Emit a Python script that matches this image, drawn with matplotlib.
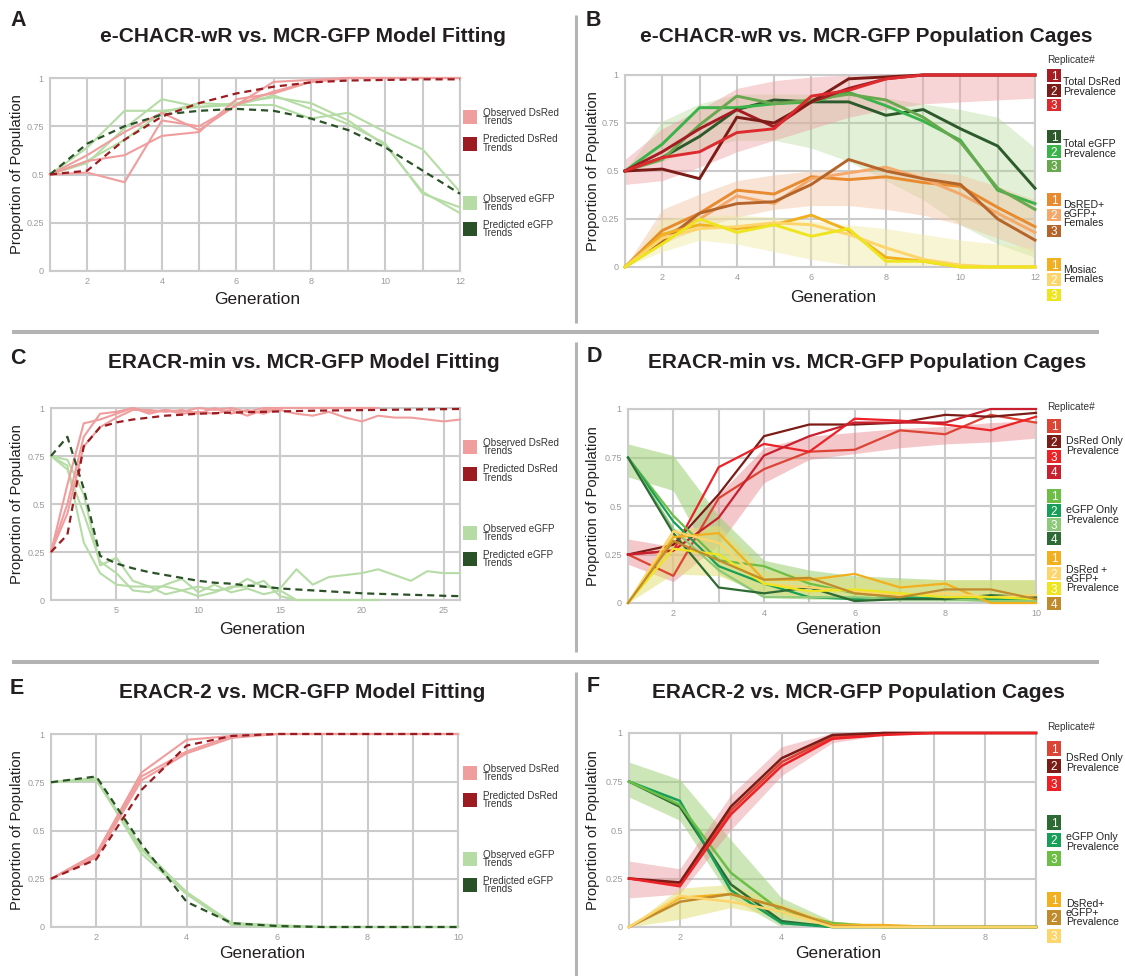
import matplotlib
matplotlib.use('Agg')
import matplotlib.pyplot as plt
from matplotlib.lines import Line2D
from matplotlib.patches import Rectangle

plt.rcParams['font.family'] = ['Liberation Sans', 'DejaVu Sans']

# ---------------- DATA ----------------
# Panels A / B : e-CHACR-wR vs MCR-GFP (generations 1..12)
gen_AB = list(range(1, 13))
B_dsred = [
    [0.5, 0.60, 0.72, 0.82, 0.73, 0.86, 0.93, 0.98, 1, 1, 1, 1],
    [0.5, 0.51, 0.46, 0.78, 0.75, 0.86, 0.98, 0.99, 1, 1, 1, 1],
    [0.5, 0.57, 0.60, 0.70, 0.72, 0.89, 0.92, 0.98, 1, 1, 1, 1],
]
B_egfp = [
    [0.5, 0.57, 0.68, 0.82, 0.87, 0.86, 0.86, 0.79, 0.82, 0.72, 0.63, 0.41],
    [0.5, 0.64, 0.83, 0.83, 0.85, 0.86, 0.91, 0.84, 0.76, 0.66, 0.40, 0.33],
    [0.5, 0.56, 0.74, 0.89, 0.85, 0.87, 0.90, 0.87, 0.78, 0.65, 0.41, 0.30],
]
B_double = [
    [0, 0.19, 0.28, 0.40, 0.38, 0.47, 0.455, 0.47, 0.44, 0.42, 0.31, 0.21],
    [0, 0.16, 0.25, 0.37, 0.33, 0.46, 0.49, 0.52, 0.46, 0.38, 0.28, 0.18],
    [0, 0.13, 0.28, 0.33, 0.34, 0.43, 0.56, 0.50, 0.46, 0.43, 0.25, 0.14],
]
B_mosaic = [
    [0, 0.17, 0.22, 0.20, 0.22, 0.27, 0.19, 0.05, 0.03, 0, 0, 0],
    [0, 0.15, 0.20, 0.21, 0.23, 0.22, 0.17, 0.10, 0.04, 0.01, 0, 0],
    [0, 0.12, 0.25, 0.18, 0.22, 0.16, 0.20, 0.03, 0.03, 0, 0, 0],
]
# simulation envelopes (lower, upper)
B_band_red = ([0.43, 0.45, 0.52, 0.60, 0.66, 0.72, 0.78, 0.82, 0.85, 0.86, 0.87, 0.88],
              [0.56, 0.72, 0.82, 0.93, 0.97, 0.99, 1, 1, 1, 1, 1, 1])
B_band_green = ([0.5, 0.55, 0.62, 0.66, 0.66, 0.62, 0.55, 0.45, 0.35, 0.22, 0.12, 0.05],
                [0.5, 0.76, 0.85, 0.90, 0.90, 0.90, 0.90, 0.88, 0.85, 0.82, 0.78, 0.62])
B_band_orange = ([0, 0.12, 0.20, 0.26, 0.30, 0.32, 0.32, 0.30, 0.27, 0.22, 0.15, 0.08],
                 [0, 0.30, 0.38, 0.45, 0.48, 0.50, 0.50, 0.50, 0.50, 0.48, 0.42, 0.35])
B_band_yellow = ([0, 0.08, 0.14, 0.12, 0.08, 0.04, 0.01, 0, 0, 0, 0, 0],
                 [0, 0.25, 0.27, 0.27, 0.26, 0.24, 0.22, 0.20, 0.17, 0.14, 0.12, 0.10])
A_pred_dsred = [0.5, 0.52, 0.68, 0.80, 0.87, 0.92, 0.955, 0.977, 0.987, 0.99, 0.993, 0.993]
A_pred_egfp = [0.5, 0.66, 0.75, 0.81, 0.83, 0.84, 0.83, 0.79, 0.73, 0.64, 0.52, 0.40]

# Panel C : ERACR-min model fitting
gen_C_long = list(range(1, 27))
gen_C_short = list(range(1, 22))
C_obs_dsred = [
    [0.25, 0.60, 0.92, 0.94, 0.97, 1.0, 0.98, 0.99, 0.97, 0.98, 0.97, 0.99, 0.96, 0.99, 0.99,
     0.97, 0.96, 0.98, 0.95, 0.93, 0.96, 0.95, 0.95, 0.94, 0.93, 0.94],
    [0.25, 0.50, 0.85, 0.97, 0.98, 1.0, 0.97, 0.99, 0.98, 1.0, 0.99, 1.0, 0.98, 1.0, 1.0,
     1.0, 1.0, 1.0, 1.0, 1.0, 1.0],
    [0.25, 0.45, 0.80, 0.90, 0.95, 0.99, 0.99, 0.98, 0.99, 0.97, 1.0, 0.97, 0.99, 0.97, 1.0,
     1.0, 1.0, 1.0, 1.0, 1.0, 1.0],
]
C_obs_egfp = [
    [0.75, 0.73, 0.55, 0.18, 0.22, 0.10, 0.07, 0.07, 0.05, 0.07, 0.05, 0.06, 0.11, 0.07, 0.06,
     0.16, 0.08, 0.12, 0.13, 0.14, 0.16, 0.13, 0.10, 0.15, 0.14, 0.14],
    [0.75, 0.70, 0.30, 0.14, 0.08, 0.07, 0.07, 0.03, 0.05, 0.02, 0.04, 0.07, 0.07, 0.10, 0.02,
     0.0, 0, 0, 0, 0, 0],
    [0.75, 0.68, 0.45, 0.20, 0.14, 0.05, 0.04, 0.08, 0.11, 0.04, 0.08, 0.04, 0.06, 0.03, 0.05,
     0.0, 0, 0, 0, 0, 0],
]
C_pred_dsred = [0.25, 0.34, 0.80, 0.90, 0.925, 0.94, 0.95, 0.96, 0.965, 0.97, 0.973, 0.976, 0.978,
                0.98, 0.982, 0.984, 0.986, 0.987, 0.988, 0.989, 0.99, 0.991, 0.992, 0.993, 0.994, 0.995]
C_pred_egfp = [0.75, 0.85, 0.58, 0.23, 0.19, 0.165, 0.145, 0.13, 0.115, 0.10, 0.09, 0.085, 0.075,
               0.07, 0.06, 0.055, 0.05, 0.045, 0.04, 0.035, 0.032, 0.03, 0.027, 0.025, 0.022, 0.02]

# Panel D : ERACR-min cages (generations 1..10)
gen_D = list(range(1, 11))
D_dsred = [
    [0.25, 0.14, 0.54, 0.69, 0.78, 0.79, 0.89, 0.87, 0.97, 0.93],
    [0.25, 0.30, 0.56, 0.86, 0.92, 0.92, 0.93, 0.97, 0.96, 0.98],
    [0.25, 0.27, 0.70, 0.82, 0.78, 0.95, 0.94, 0.92, 0.89, 0.96],
    [0.25, 0.27, 0.44, 0.76, 0.86, 0.93, 0.93, 0.93, 1.0, 1.0],
]
D_egfp = [
    [0.75, 0.45, 0.22, 0.19, 0.10, 0.05, 0.03, 0.02, 0.02, 0.01],
    [0.75, 0.42, 0.19, 0.10, 0.03, 0.02, 0.03, 0.02, 0.02, 0.02],
    [0.75, 0.38, 0.17, 0.03, 0.03, 0.03, 0.02, 0.02, 0.01, 0.01],
    [0.75, 0.36, 0.08, 0.05, 0.08, 0.01, 0.02, 0.02, 0.04, 0.03],
]
D_double = [
    [0, 0.34, 0.36, 0.12, 0.12, 0.15, 0.08, 0.10, 0.0, 0.0],
    [0, 0.37, 0.31, 0.10, 0.08, 0.06, 0.04, 0.05, 0.03, 0.04],
    [0, 0.28, 0.25, 0.10, 0.06, 0.07, 0.05, 0.03, 0.03, 0.02],
    [0, 0.32, 0.22, 0.12, 0.13, 0.05, 0.03, 0.07, 0.07, 0.02],
]
D_band_red = ([0.20, 0.11, 0.30, 0.62, 0.74, 0.77, 0.80, 0.82, 0.83, 0.85],
              [0.33, 0.29, 0.56, 0.80, 0.86, 0.88, 0.90, 0.91, 0.93, 0.94])
D_band_green = ([0.65, 0.58, 0.15, 0.03, 0.02, 0.02, 0.01, 0.01, 0.01, 0.01],
                [0.82, 0.76, 0.45, 0.22, 0.17, 0.14, 0.13, 0.12, 0.12, 0.12])
D_band_yellow = ([0, 0.15, 0.14, 0.05, 0.03, 0.02, 0.02, 0.02, 0.02, 0.02],
                 [0, 0.38, 0.40, 0.17, 0.14, 0.13, 0.12, 0.12, 0.12, 0.12])

# Panel E : ERACR-2 model fitting (generations 1..10)
gen_E = list(range(1, 11))
E_obs_dsred = [
    [0.25, 0.38, 0.80, 0.97, 0.99, 1, 1, 1, 1, 1],
    [0.25, 0.37, 0.78, 0.91, 0.99, 1, 1, 1, 1, 1],
    [0.25, 0.36, 0.76, 0.90, 0.98, 1, 1, 1, 1, 1],
]
E_obs_egfp = [
    [0.75, 0.77, 0.41, 0.18, 0.02, 0.01, 0, 0, 0, 0],
    [0.75, 0.77, 0.38, 0.17, 0.01, 0, 0, 0, 0, 0],
    [0.75, 0.76, 0.40, 0.18, 0.02, 0.005, 0, 0, 0, 0],
]
E_pred_dsred = [0.25, 0.35, 0.71, 0.94, 0.99, 1, 1, 1, 1, 1]
E_pred_egfp = [0.75, 0.78, 0.43, 0.13, 0.02, 0.005, 0, 0, 0, 0]

# Panel F : ERACR-2 cages (generations 1..9)
gen_F = list(range(1, 10))
F_dsred = [
    [0.25, 0.22, 0.60, 0.85, 0.98, 1.0, 1, 1, 1],
    [0.25, 0.23, 0.62, 0.87, 0.99, 1, 1, 1, 1],
    [0.25, 0.21, 0.58, 0.83, 0.97, 0.99, 1, 1, 1],
]
F_egfp = [
    [0.75, 0.62, 0.22, 0.03, 0, 0, 0, 0, 0],
    [0.75, 0.65, 0.19, 0.02, 0, 0, 0, 0, 0],
    [0.75, 0.63, 0.28, 0.08, 0.02, 0, 0, 0, 0],
]
F_double = [
    [0, 0.15, 0.17, 0.10, 0.01, 0.01, 0, 0, 0],
    [0, 0.13, 0.17, 0.10, 0.005, 0, 0, 0, 0],
    [0, 0.16, 0.13, 0.08, 0, 0, 0, 0, 0],
]
F_band_red = ([0.15, 0.17, 0.50, 0.78, 0.95, 0.99, 1, 1, 1],
              [0.34, 0.30, 0.68, 0.93, 1, 1, 1, 1, 1])
F_band_green = ([0.67, 0.55, 0.15, 0.0, 0, 0, 0, 0, 0],
                [0.85, 0.76, 0.45, 0.15, 0.03, 0.01, 0, 0, 0])
F_band_yellow = ([0, 0.04, 0.10, 0.05, 0, 0, 0, 0, 0],
                 [0, 0.20, 0.22, 0.12, 0.03, 0.01, 0, 0, 0])

y_ticks = [0, 0.25, 0.5, 0.75, 1]
y_ticklabels = ['0', '0.25', '0.5', '0.75', '1']

# ---------------- STYLE ----------------
OBS_RED = '#ef9d9d'
PRED_RED = '#9b1b20'
OBS_GREEN = '#b6dca6'
PRED_GREEN = '#2a5226'
GRID = '#cbcbcb'
TICKC = '#9a9a9a'
TXT = '#231f20'
SEP = '#b3b3b3'

B_red_cols = ['#a51c22', '#7b1c17', '#dc2a2e']
B_green_cols = ['#2c5a2b', '#3ab44a', '#6aa84f']
B_orange_cols = ['#e88a2e', '#f4a96b', '#b5652a']
B_yellow_cols = ['#f0b020', '#fdd56a', '#eee51e']
D_red_cols = ['#dc4436', '#7b1c17', '#ec2227', '#c8202f']
D_green_cols = ['#6dbe45', '#179f58', '#8dc97a', '#2e6b34']
D_yellow_cols = ['#f2b01e', '#fdd56a', '#eee51e', '#c08b2c']
F_red_cols = ['#dc4436', '#7b1c17', '#ec2227']
F_green_cols = ['#2e6b34', '#179f58', '#6dbe45']
F_yellow_cols = ['#f2b01e', '#c08b2c', '#fdd56a']

W, H = 1125, 976
fig = plt.figure(figsize=(W / 100, H / 100), dpi=100)
fig.patch.set_facecolor('white')


def fx(x):
    return x / W


def fy(y):
    return 1 - y / H


def make_ax(l, t, r, b, xmax, xlabels, minor_every=True):
    ax = fig.add_axes([fx(l), fy(b), (r - l) / W, (b - t) / H])
    ax.set_xlim(1, xmax)
    ax.set_ylim(0, 1)
    ax.set_xticks(xlabels)
    ax.set_xticklabels([str(v) for v in xlabels])
    if minor_every:
        ax.set_xticks(list(range(1, xmax + 1)), minor=True)
    ax.set_yticks(y_ticks)
    ax.set_yticklabels(y_ticklabels)
    ax.grid(True, which='both', color=GRID, lw=1.5)
    ax.set_axisbelow(True)
    ax.tick_params(which='both', length=0, labelsize=6.5, labelcolor=TICKC, pad=4.5)
    for s in ax.spines.values():
        s.set_color(GRID)
        s.set_linewidth(1.5)
    ax.set_facecolor('white')
    return ax


def labels(ax_l, ax_t, ax_r, ax_b, title, title_x, title_y, letter, letter_x, letter_y,
           ylab_x, gen_x, gen_y):
    fig.text(fx(letter_x), fy(letter_y), letter, fontsize=15.5, fontweight='bold',
             color=TXT, ha='left', va='center')
    fig.text(fx(title_x), fy(title_y), title, fontsize=15, fontweight='bold',
             color=TXT, ha='center', va='center')
    fig.text(fx(ylab_x), fy((ax_t + ax_b) / 2), 'Proportion of Population', fontsize=10.7,
             color=TXT, rotation=90, ha='center', va='center')
    fig.text(fx(gen_x), fy(gen_y), 'Generation', fontsize=12.5, color=TXT,
             ha='center', va='center')


def model_legend(top):
    items = [(OBS_RED, 'Observed DsRed\nTrends', 39),
             (PRED_RED, 'Predicted DsRed\nTrends', 65.7),
             (OBS_GREEN, 'Observed eGFP\nTrends', 125),
             (PRED_GREEN, 'Predicted eGFP\nTrends', 151)]
    for c, s, dy in items:
        cy = top + dy
        fig.add_artist(Rectangle((fx(463), fy(cy + 7)), 14 / W, 14 / H,
                                 transform=fig.transFigure, color=c, lw=0))
        fig.text(fx(483), fy(cy), s, fontsize=7.1, ha='left', va='center',
                 linespacing=0.8, color='#333333')


def rep_legend(title_y, label_x, w, h, groups):
    fig.text(fx(1047), fy(title_y), 'Replicate#', fontsize=7.3, color='#333333',
             ha='left', va='center')
    for tops, cols, lab, lab_y in groups:
        for i, (t, c) in enumerate(zip(tops, cols)):
            fig.add_artist(Rectangle((fx(1047), fy(t + h)), w / W, h / H,
                                     transform=fig.transFigure, color=c, lw=0))
            fig.text(fx(1047 + w / 2), fy(t + h / 2), str(i + 1), fontsize=8.5,
                     color='white', ha='center', va='center_baseline')
        fig.text(fx(label_x), fy(lab_y), lab, fontsize=7.6, color='#222222', ha='left',
                 va='center', linespacing=0.88)


def band(ax, x, b, color, alpha):
    ax.fill_between(x, b[0], b[1], color=color, alpha=alpha, lw=0, zorder=2)


def lines(ax, x, ys, cols, lw):
    for y, c in zip(ys, cols):
        ax.plot(x, y, color=c, lw=lw, zorder=4, clip_on=False, solid_joinstyle='round')


DASH = (0, (3.2, 2.2))

# ---------------- PANEL A ----------------
axA = make_ax(50, 78, 460, 271, 12, [2, 4, 6, 8, 10, 12])
for y in B_egfp:
    axA.plot(gen_AB, y, color=OBS_GREEN, lw=1.5, zorder=3, clip_on=False)
for y in B_dsred:
    axA.plot(gen_AB, y, color=OBS_RED, lw=1.5, zorder=3, clip_on=False)
axA.plot(gen_AB, A_pred_egfp, color=PRED_GREEN, lw=1.6, ls=DASH, zorder=4, clip_on=False)
axA.plot(gen_AB, A_pred_dsred, color=PRED_RED, lw=1.6, ls=DASH, zorder=4, clip_on=False)
labels(50, 78, 460, 271, 'e-CHACR-wR vs. MCR-GFP Model Fitting', 303, 36, 'A', 10, 20.5,
       17, 257, 300)
model_legend(78)

# ---------------- PANEL B ----------------
axB = make_ax(625, 75, 1035, 267, 12, [2, 4, 6, 8, 10, 12])
band(axB, gen_AB, B_band_green, '#a9d48a', 0.35)
band(axB, gen_AB, B_band_red, '#eea0a4', 0.45)
band(axB, gen_AB, B_band_orange, '#f3c3a0', 0.45)
band(axB, gen_AB, B_band_yellow, '#eeeaa0', 0.45)
lines(axB, gen_AB, B_egfp, B_green_cols, 2.1)
lines(axB, gen_AB, B_dsred, B_red_cols, 2.1)
lines(axB, gen_AB, B_double, B_orange_cols, 2.1)
lines(axB, gen_AB, B_mosaic, B_yellow_cols, 2.1)
labels(625, 75, 1035, 267, 'e-CHACR-wR vs. MCR-GFP Population Cages', 866, 36, 'B', 586, 20.5,
       593, 833, 297)
rep_legend(60, 1063, 14, 12.5, [
    ([69, 84, 98.5], B_red_cols, 'Total DsRed\nPrevalence', 87),
    ([130, 145, 159.5], B_green_cols, 'Total eGFP\nPrevalence', 149),
    ([193, 208.5, 224.5], B_orange_cols, 'DsRED+\neGFP+\nFemales', 214),
    ([258, 273, 288.5], B_yellow_cols, 'Mosiac\nFemales', 274.5),
])

# ---------------- PANEL C ----------------
axC = make_ax(51, 408, 460, 600, 26, [5, 10, 15, 20, 25], minor_every=False)
axC.plot(gen_C_long, C_obs_egfp[0], color=OBS_GREEN, lw=1.5, zorder=3, clip_on=False)
for y in C_obs_egfp[1:]:
    axC.plot(gen_C_short, y, color=OBS_GREEN, lw=1.5, zorder=3, clip_on=False)
axC.plot(gen_C_long, C_obs_dsred[0], color=OBS_RED, lw=1.5, zorder=3, clip_on=False)
for y in C_obs_dsred[1:]:
    axC.plot(gen_C_short, y, color=OBS_RED, lw=1.5, zorder=3, clip_on=False)
axC.plot(gen_C_long, C_pred_egfp, color=PRED_GREEN, lw=1.6, ls=DASH, zorder=4, clip_on=False)
axC.plot(gen_C_long, C_pred_dsred, color=PRED_RED, lw=1.6, ls=DASH, zorder=4, clip_on=False)
labels(51, 408, 460, 600, 'ERACR-min vs. MCR-GFP Model Fitting', 304, 363, 'C', 10, 358,
       17, 262, 630)
model_legend(408)

# ---------------- PANEL D ----------------
axD = make_ax(628, 409, 1036, 603, 10, [2, 4, 6, 8, 10])
band(axD, gen_D, D_band_red, '#e8868c', 0.45)
band(axD, gen_D, D_band_green, '#9ccf72', 0.55)
band(axD, gen_D, D_band_yellow, '#e3df70', 0.5)
lines(axD, gen_D, D_dsred, D_red_cols, 1.6)
lines(axD, gen_D, D_egfp, D_green_cols, 1.6)
lines(axD, gen_D, D_double, D_yellow_cols, 1.6)
labels(628, 409, 1036, 603, 'ERACR-min vs. MCR-GFP Population Cages', 867, 363, 'D', 587, 356,
       593, 838, 630)
rep_legend(407, 1066, 14, 13.5, [
    ([419, 434.5, 450, 465], D_red_cols, 'DsRed Only\nPrevalence', 446),
    ([489, 503.5, 517.5, 531.5], D_green_cols, 'eGFP Only\nPrevalence', 515),
    ([551, 566.5, 581.5, 596.5], D_yellow_cols, 'DsRed +\neGFP+\nPrevalence', 579),
])

# ---------------- PANEL E ----------------
axE = make_ax(51, 734, 458, 927, 10, [2, 4, 6, 8, 10])
for y in E_obs_egfp:
    axE.plot(gen_E, y, color=OBS_GREEN, lw=1.5, zorder=3, clip_on=False)
for y in E_obs_dsred:
    axE.plot(gen_E, y, color=OBS_RED, lw=1.5, zorder=3, clip_on=False)
axE.plot(gen_E, E_pred_egfp, color=PRED_GREEN, lw=1.6, ls=DASH, zorder=4, clip_on=False)
axE.plot(gen_E, E_pred_dsred, color=PRED_RED, lw=1.6, ls=DASH, zorder=4, clip_on=False)
labels(51, 734, 458, 927, 'ERACR-2 vs. MCR-GFP Model Fitting', 302, 692, 'E', 10, 688,
       17, 262, 953)
model_legend(734)

# ---------------- PANEL F ----------------
axF = make_ax(629, 733, 1036, 927, 9, [2, 4, 6, 8])
band(axF, gen_F, F_band_green, '#9ccf72', 0.5)
band(axF, gen_F, F_band_red, '#e8868c', 0.4)
band(axF, gen_F, F_band_yellow, '#e3df70', 0.5)
lines(axF, gen_F, F_egfp, F_green_cols, 1.8)
lines(axF, gen_F, F_dsred, F_red_cols, 1.8)
lines(axF, gen_F, F_double, F_yellow_cols, 1.8)
labels(629, 733, 1036, 927, 'ERACR-2 vs. MCR-GFP Population Cages', 858, 692, 'F', 587, 686,
       593, 838, 953)
rep_legend(727, 1066, 14, 14.5, [
    ([741, 758.5, 776], F_red_cols, 'DsRed Only\nPrevalence', 763),
    ([815, 832.5, 851], F_green_cols, 'eGFP Only\nPrevalence', 842),
    ([892, 910, 928.5], F_yellow_cols, 'DsRed+\neGFP+\nPrevalence', 913),
])

# ---------------- SEPARATORS ----------------
for y in (332, 662):
    fig.add_artist(Line2D([fx(12), fx(1099)], [fy(y), fy(y)], lw=2.9, color=SEP,
                          solid_capstyle='butt'))
for y0, y1 in ((15, 323), (342, 652), (672, 976)):
    fig.add_artist(Line2D([fx(575.5), fx(575.5)], [fy(y0), fy(y1)], lw=2.2, color=SEP,
                          solid_capstyle='butt'))

fig.savefig('out.png', dpi=100)
